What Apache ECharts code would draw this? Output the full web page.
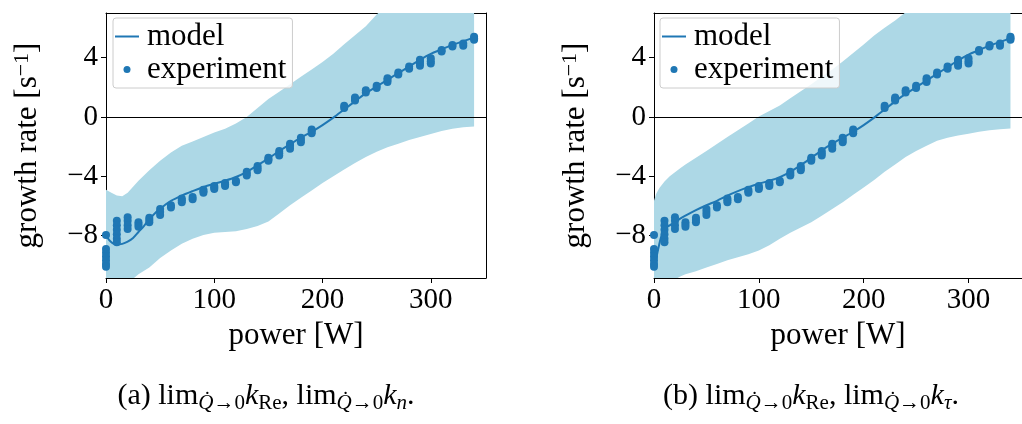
<!DOCTYPE html>
<html><head><meta charset="utf-8">
<script src="https://cdn.jsdelivr.net/npm/echarts@6/dist/echarts.min.js"></script>
<style>html,body{margin:0;padding:0;background:#fff}#c{width:1022px;height:424px}</style>
</head><body><div id="c"></div>
<script>
// ---- data ----
const xTicks = [0, 100, 200, 300];
const yTicks = [-8, -4, 0, 4];

const expPower = [
  0,0,0,0,0,0,0, 10,10,10,10,10,10, 20,20,20,20, 30,30,30, 40,40,40, 50,50,50, 60,60, 70,70,70, 80,80,
  90,90,90, 100,100,100, 110,110,110, 120,120, 130,130,130, 140,140,140, 150,150,150, 160,160,160,
  170,170,170, 180,180,180, 190,190,190, 220,220, 230,230,230, 240,240, 250,250, 260,260,260, 270,270,
  280,280, 290,290,290,290, 300,300,300, 310,310, 320,320, 330,330, 340,340,340
];
const expRate = [
  -7.95,-8.9,-9.15,-9.4,-9.65,-9.9,-10.1, -7.0,-7.3,-7.6,-7.9,-8.2,-8.45, -6.75,-7.0,-7.3,-7.55, -7.1,-7.25,-7.4,
  -6.8,-6.95,-7.1, -6.2,-6.4,-6.6, -5.95,-6.1, -5.5,-5.62,-5.75, -5.4,-5.55,
  -4.9,-5.0,-5.1, -4.65,-4.75,-4.85, -4.45,-4.55,-4.65, -4.3,-4.4, -3.7,-3.82,-3.95, -3.3,-3.45,-3.6, -2.75,-2.85,-2.95, -2.3,-2.45,-2.6,
  -1.8,-1.95,-2.15, -1.4,-1.55,-1.7, -0.85,-0.97,-1.1, 0.6,0.75, 1.1,1.2,1.3, 1.65,1.8, 1.95,2.1, 2.35,2.48,2.6, 2.85,3.0,
  3.25,3.4, 3.45,3.6,3.75,3.85, 3.6,3.75,3.95, 4.4,4.5, 4.75,4.85, 4.8,4.95, 5.2,5.3,5.4
];

// panel (a)
const modelPowerA = [0,3,6,10,15,20,25,30,35,40,45,50,55,60,70,80,90,100,110,120,130,140,150,160,170,180,190,200,210,220,230,240,250,260,270,280,290,300,310,320,330,340];
const modelRateA = [-7.95,-8.3,-8.5,-8.6,-8.55,-8.4,-8.15,-7.75,-7.35,-6.9,-6.5,-6.2,-5.9,-5.65,-5.3,-5.0,-4.72,-4.5,-4.3,-4.05,-3.7,-3.25,-2.8,-2.3,-1.85,-1.4,-1.0,-0.55,-0.05,0.5,1.05,1.6,2.05,2.5,2.95,3.4,3.85,4.25,4.55,4.85,5.1,5.35];
const bandPowerA = [0,5,10,15,20,25,30,40,50,60,70,80,90,100,110,120,130,140,150,160,170,180,190,200,210,220,230,240,250,260,270,280,290,300,310,320,330,340];
const bandUpperA = [-4.9,-5.1,-5.3,-5.35,-5.1,-4.7,-4.3,-3.6,-2.95,-2.4,-1.95,-1.65,-1.35,-1.05,-0.8,-0.45,0.0,0.6,1.2,1.7,2.2,2.7,3.2,3.7,4.25,4.9,5.5,6.1,6.9,7.6,8.2,8.8,9.4,10.0,10.6,11.2,11.8,12.4];
const bandLowerA = [-12.6,-12.3,-12.0,-11.6,-11.25,-10.9,-10.6,-10.15,-9.5,-9.0,-8.55,-8.2,-7.95,-7.8,-7.75,-7.7,-7.55,-7.35,-7.05,-6.5,-5.95,-5.45,-4.95,-4.45,-4.0,-3.55,-3.1,-2.7,-2.35,-2.05,-1.8,-1.55,-1.35,-1.15,-0.95,-0.8,-0.7,-0.65];

// panel (b)
const modelPowerB = [0,2,4,7,11,15,20,25,30,40,50,60,70,80,90,100,110,120,130,140,150,160,170,180,190,200,210,220,230,240,250,260,270,280,290,300,310,320,330,340];
const modelRateB = [-10.3,-9.6,-8.9,-8.05,-7.5,-7.3,-7.1,-6.85,-6.65,-6.28,-5.95,-5.65,-5.3,-5.0,-4.73,-4.5,-4.3,-4.05,-3.7,-3.25,-2.75,-2.25,-1.8,-1.4,-1.0,-0.55,-0.05,0.5,1.05,1.55,2.0,2.45,2.9,3.35,3.8,4.2,4.5,4.8,5.05,5.3];
const bandPowerB = [0,2,5,10,15,20,25,30,40,50,60,70,80,90,100,110,120,130,140,150,160,170,180,190,200,210,220,230,240,250,260,270,280,290,300,310,320,330,340];
const bandUpperB = [-5.65,-5.2,-4.8,-4.35,-4.0,-3.72,-3.46,-3.2,-2.75,-2.3,-1.82,-1.36,-0.9,-0.45,0.03,0.4,0.77,1.25,1.73,2.2,2.7,3.2,3.73,4.3,4.88,5.48,6.0,6.5,7.05,7.6,8.1,8.6,9.1,9.6,10.1,10.6,11.1,11.6,12.1];
const bandLowerB = [-13.2,-13.0,-12.6,-12.0,-11.4,-10.95,-10.75,-10.6,-10.4,-10.15,-9.9,-9.65,-9.45,-9.25,-9.0,-8.65,-8.2,-7.8,-7.45,-7.1,-6.65,-6.2,-5.75,-5.25,-4.75,-4.25,-3.7,-3.2,-2.7,-2.3,-1.95,-1.6,-1.4,-1.25,-1.13,-1.0,-0.9,-0.83,-0.78];

const captionA = '{r|(a) lim}{si|Q\u0307}{s|\u21920}{i|k}{s|Re}{r|, lim}{si|Q\u0307}{s|\u21920}{i|k}{si|n}{r|.}';
const captionB = '{r|(b) lim}{si|Q\u0307}{s|\u21920}{i|k}{s|Re}{r|, lim}{si|Q\u0307}{s|\u21920}{i|k}{si|\u03c4}{r|.}';

// ---- chart ----
const FONT = 'Liberation Serif';
const BLUE = '#1f77b4';
const BANDC = '#add8e6';
const TICK_FS = 29, LABEL_FS = 31;

const zip = (a, b) => a.map((v, i) => [v, b[i]]);
const fmt = v => (v < 0 ? '\u2212' + Math.abs(v) : String(v));

const grids = [
  {left: 106, top: 13, width: 380, height: 265},
  {left: 654, top: 13, width: 380, height: 265}
];

const xAxes = [], yAxes = [], series = [];
const panels = [
  {mp: modelPowerA, mr: modelRateA, bp: bandPowerA, bu: bandUpperA, bl: bandLowerA},
  {mp: modelPowerB, mr: modelRateB, bp: bandPowerB, bu: bandUpperB, bl: bandLowerB}
];

panels.forEach((p, gi) => {
  const xi = xAxes.length, yi = yAxes.length;
  xAxes.push({
    gridIndex: gi, type: 'value', min: 0, max: 351, position: 'bottom',
    axisLine: {show: true, onZero: false, lineStyle: {color: '#000', width: 1}},
    axisTick: {show: true, length: 5, customValues: xTicks, lineStyle: {color: '#000', width: 1}},
    axisLabel: {margin: 8, fontSize: TICK_FS, fontFamily: FONT, color: '#000', customValues: xTicks, formatter: fmt},
    splitLine: {show: false},
    name: 'power [W]', nameLocation: 'middle', nameGap: 40,
    nameTextStyle: {fontSize: LABEL_FS, fontFamily: FONT, color: '#000'}
  });
  xAxes.push({
    gridIndex: gi, type: 'value', min: 0, max: 351, position: 'top',
    axisLine: {show: true, onZero: false, lineStyle: {color: '#000', width: 1}},
    axisTick: {show: false}, axisLabel: {show: false}, splitLine: {show: false}
  });
  yAxes.push({
    gridIndex: gi, type: 'value', min: -10.85, max: 7, position: 'left',
    axisLine: {show: true, onZero: false, lineStyle: {color: '#000', width: 1}},
    axisTick: {show: true, length: 5, customValues: yTicks, lineStyle: {color: '#000', width: 1}},
    axisLabel: {margin: 8, fontSize: TICK_FS, fontFamily: FONT, color: '#000', customValues: yTicks, formatter: fmt},
    splitLine: {show: false},
    name: '{a|growth rate [s}{s|\u22121}{a|]}', nameLocation: 'middle', nameGap: 61, nameRotate: 90,
    nameTextStyle: {
      rich: {
        a: {fontSize: LABEL_FS, fontFamily: FONT, color: '#000', lineHeight: 34},
        s: {fontSize: 22, fontFamily: FONT, color: '#000', lineHeight: 21, verticalAlign: 'top'}
      }
    }
  });
  yAxes.push({
    gridIndex: gi, type: 'value', min: -10.85, max: 7, position: 'right',
    axisLine: {show: true, onZero: false, lineStyle: {color: '#000', width: 1}},
    axisTick: {show: false}, axisLabel: {show: false}, splitLine: {show: false}
  });

  // uncertainty band: polygon through the axis scales
  series.push({
    name: 'band' + gi, type: 'custom', xAxisIndex: xi, yAxisIndex: yi,
    clip: true, silent: true, z: 1,
    data: [[0, 0]],
    renderItem: (params, api) => {
      const pts = [];
      p.bp.forEach((x, i) => pts.push(api.coord([x, p.bu[i]])));
      for (let i = p.bp.length - 1; i >= 0; i--) pts.push(api.coord([p.bp[i], p.bl[i]]));
      return {type: 'polygon', shape: {points: pts}, style: {fill: BANDC, stroke: null}};
    }
  });
  series.push({
    name: 'model', type: 'line', xAxisIndex: xi, yAxisIndex: yi,
    data: zip(p.mp, p.mr), symbol: 'none', showSymbol: false, smooth: 0.3,
    lineStyle: {color: BLUE, width: 2}, itemStyle: {color: BLUE}, z: 3,
    markLine: {
      silent: true, symbol: ['none', 'none'], label: {show: false},
      lineStyle: {color: '#000', width: 1, type: 'solid'},
      data: [{yAxis: 0}], z: 2
    }
  });
  series.push({
    name: 'experiment', type: 'scatter', xAxisIndex: xi, yAxisIndex: yi,
    data: zip(expPower, expRate), symbol: 'circle', symbolSize: 8,
    itemStyle: {color: BLUE, opacity: 1}, z: 4
  });
});

const legendBase = {
  orient: 'vertical', top: 18, itemWidth: 24, itemHeight: 7, itemGap: 0,
  padding: [2, 6, 2, 2], backgroundColor: 'rgba(255,255,255,0.8)',
  borderColor: '#cccccc', borderWidth: 1, borderRadius: 3,
  textStyle: {fontSize: LABEL_FS, fontFamily: FONT, color: '#000', lineHeight: 33, padding: [0, 0, 0, 3]},
  selectedMode: false,
  data: [
    {name: 'model', icon: 'path://M0,0 L24,0 L24,2 L0,2 Z', itemStyle: {color: BLUE}},
    {name: 'experiment', icon: 'circle', itemStyle: {color: BLUE}}
  ]
};

const capRich = {
  r: {fontFamily: FONT, fontSize: 30, fill: '#000', color: '#000', lineHeight: 36},
  i: {fontFamily: FONT, fontSize: 30, fontStyle: 'italic', fill: '#000', color: '#000', lineHeight: 36},
  s: {fontFamily: FONT, fontSize: 21, fill: '#000', color: '#000', lineHeight: 21, verticalAlign: 'bottom'},
  si: {fontFamily: FONT, fontSize: 21, fontStyle: 'italic', fill: '#000', color: '#000', lineHeight: 21, verticalAlign: 'bottom'}
};

const chart = echarts.init(document.getElementById('c'), null, {renderer: 'canvas'});
chart.setOption({
  animation: false,
  backgroundColor: '#fff',
  grid: grids,
  xAxis: xAxes,
  yAxis: yAxes,
  legend: [
    Object.assign({}, legendBase, {left: 113}),
    Object.assign({}, legendBase, {left: 660})
  ],
  graphic: [
    {type: 'text', x: 266, y: 396, style: {text: captionA, rich: capRich, align: 'center', verticalAlign: 'middle'}},
    {type: 'text', x: 811, y: 396, style: {text: captionB, rich: capRich, align: 'center', verticalAlign: 'middle'}}
  ],
  series: series
});
</script>
</body></html>
